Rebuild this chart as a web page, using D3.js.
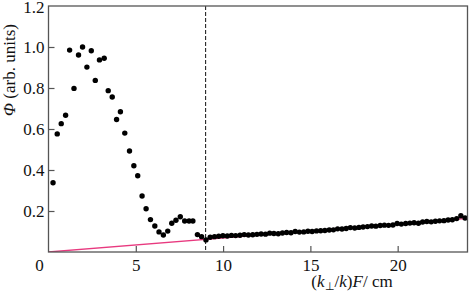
<!DOCTYPE html>
<html>
<head>
<meta charset="utf-8">
<script src="https://cdn.jsdelivr.net/npm/d3@7"></script>
<style>
  html, body { margin: 0; padding: 0; background: #fff; }
</style>
</head>
<body>
<div id="chart"></div>
<script>
// ---- Data ----
const xValues = [
  0.26, 0.50, 0.73, 0.98, 1.21, 1.46, 1.72, 1.95, 2.20, 2.45, 2.68, 2.92, 3.19, 3.42, 3.65,
  3.90, 4.12, 4.37, 4.64, 4.89, 5.11, 5.36, 5.59, 5.84, 6.09, 6.33, 6.58, 6.83, 7.06, 7.30,
  7.55, 7.80, 8.05, 8.27, 8.53, 8.77, 9.02,
  9.26, 9.51, 9.75, 9.99, 10.24, 10.48, 10.72, 10.97, 11.21, 11.45, 11.70, 11.94, 12.18, 12.43,
  12.67, 12.91, 13.16, 13.40, 13.64, 13.89, 14.13, 14.37, 14.62, 14.86, 15.10, 15.35, 15.59,
  15.83, 16.08, 16.32, 16.56, 16.81, 17.05, 17.29, 17.54, 17.78, 18.02, 18.27, 18.51, 18.75,
  19.00, 19.24, 19.48, 19.73, 19.97, 20.21, 20.46, 20.70, 20.94, 21.19, 21.43, 21.67, 21.92,
  22.16, 22.40, 22.65, 22.89, 23.13, 23.38, 23.62, 23.86
];
const phiValues = [
  0.338, 0.576, 0.626, 0.667, 0.985, 0.798, 0.961, 1.000, 0.902, 0.982, 0.837, 0.937, 0.945, 0.787, 0.756,
  0.646, 0.684, 0.580, 0.493, 0.421, 0.372, 0.273, 0.211, 0.158, 0.127, 0.098, 0.083, 0.102, 0.140, 0.155,
  0.172, 0.151, 0.151, 0.151, 0.085, 0.075, 0.059,
  0.072, 0.075, 0.077, 0.079, 0.078, 0.081, 0.080, 0.082, 0.085, 0.083, 0.084, 0.086, 0.088, 0.087,
  0.092, 0.090, 0.089, 0.093, 0.095, 0.094, 0.100, 0.097, 0.098, 0.101, 0.100, 0.103, 0.104,
  0.105, 0.107, 0.108, 0.113, 0.112, 0.115, 0.119, 0.117, 0.120, 0.122, 0.124, 0.127, 0.126,
  0.129, 0.131, 0.130, 0.132, 0.139, 0.136, 0.139, 0.141, 0.143, 0.140, 0.146, 0.149, 0.147,
  0.150, 0.152, 0.153, 0.156, 0.157, 0.163, 0.177, 0.166
];
const fitX = [0, 24];
const fitY = [0, 0.164];
const cutoffX = 9;
const xTicks = [5, 10, 15, 20];
const xTickLabels = ["5", "10", "15", "20"];
const yTicks = [0.2, 0.4, 0.6, 0.8, 1.0, 1.2];
const yTickLabels = ["0.2", "0.4", "0.6", "0.8", "1.0", "1.2"];
const xDomain = [0, 24];
const yDomain = [0, 1.2];

// ---- Layout ----
const W = 470, H = 292;
const margin = { left: 48.5, right: 2.5, top: 6, bottom: 40 };
const iw = W - margin.left - margin.right;
const ih = H - margin.top - margin.bottom;
const FONT = '"Liberation Serif"';

const svg = d3.select("#chart").append("svg")
  .attr("width", W).attr("height", H)
  .style("font-family", FONT);

const x = d3.scaleLinear().domain(xDomain).range([margin.left, margin.left + iw]);
const y = d3.scaleLinear().domain(yDomain).range([margin.top + ih, margin.top]);

const frameColor = "#555";
const fontSize = 17;

svg.append("clipPath").attr("id", "clip")
  .append("rect").attr("x", x(0)).attr("y", y(1.2)).attr("width", iw).attr("height", ih);

// Fit line
svg.append("line")
  .attr("clip-path", "url(#clip)")
  .attr("x1", x(fitX[0])).attr("y1", y(fitY[0]))
  .attr("x2", x(fitX[1])).attr("y2", y(fitY[1]))
  .attr("stroke", "#e8397f").attr("stroke-width", 1.3);

// Dashed cutoff line
svg.append("line")
  .attr("x1", x(cutoffX)).attr("x2", x(cutoffX))
  .attr("y1", y(1.2)).attr("y2", y(0))
  .attr("stroke", "#111").attr("stroke-width", 1)
  .attr("stroke-dasharray", "4,2");

// Points
svg.append("g").selectAll("circle")
  .data(xValues.map((v, i) => [v, phiValues[i]]))
  .join("circle")
  .attr("cx", d => x(d[0])).attr("cy", d => y(d[1]))
  .attr("r", 2.7).attr("fill", "#000");

// Axes (ticks inward)
const xAxis = d3.axisBottom(x).tickValues(xTicks)
  .tickFormat((d, i) => xTickLabels[i]).tickSizeInner(-6).tickSizeOuter(0).tickPadding(7);
const gx = svg.append("g").attr("transform", `translate(0,${y(0)})`).call(xAxis);

const yAxis = d3.axisLeft(y).tickValues(yTicks)
  .tickFormat((d, i) => yTickLabels[i]).tickSizeInner(-6).tickSizeOuter(0).tickPadding(4);
const gy = svg.append("g").attr("transform", `translate(${x(0)},0)`).call(yAxis);

[gx, gy].forEach(g => {
  g.attr("font-family", null).attr("font-size", null);
  g.select(".domain").remove();
  g.selectAll(".tick line").attr("stroke", frameColor).attr("stroke-width", 1.2);
  g.selectAll(".tick text").attr("fill", "#111")
    .style("font-family", FONT).style("font-size", fontSize + "px");
});
gy.selectAll(".tick").filter(d => d === 1.2).select("line").remove();
gy.selectAll(".tick").filter(d => d === 1.2).select("text").attr("dy", "0.38em");

// Frame
svg.append("rect")
  .attr("x", x(0)).attr("y", y(1.2)).attr("width", iw).attr("height", ih)
  .attr("fill", "none").attr("stroke", frameColor).attr("stroke-width", 1.3);

// Origin label
svg.append("text").attr("x", x(0) - 9).attr("y", y(0) + 19)
  .attr("text-anchor", "middle").attr("fill", "#111")
  .style("font-family", FONT).style("font-size", fontSize + "px").text("0");

// Y-axis title
const yt = svg.append("text")
  .attr("transform", `translate(15,70) rotate(-90)`)
  .attr("text-anchor", "middle").attr("fill", "#111")
  .style("font-family", FONT).style("font-size", fontSize + "px");
yt.append("tspan").style("font-style", "italic").text("Φ");
yt.append("tspan").text(" (arb. units)");

// X-axis title
const xt = svg.append("text")
  .attr("x", 352).attr("y", 287)
  .attr("text-anchor", "middle").attr("fill", "#111")
  .style("font-family", FONT).style("font-size", fontSize + "px");
xt.append("tspan").text("(");
xt.append("tspan").style("font-style", "italic").text("k");
xt.append("tspan").style("font-size", "11px").attr("dy", 3).text("⊥");
xt.append("tspan").attr("dy", -3).text("/");
xt.append("tspan").style("font-style", "italic").text("k");
xt.append("tspan").text(")");
xt.append("tspan").style("font-style", "italic").text("F");
xt.append("tspan").text("/ cm");
</script>
</body>
</html>
